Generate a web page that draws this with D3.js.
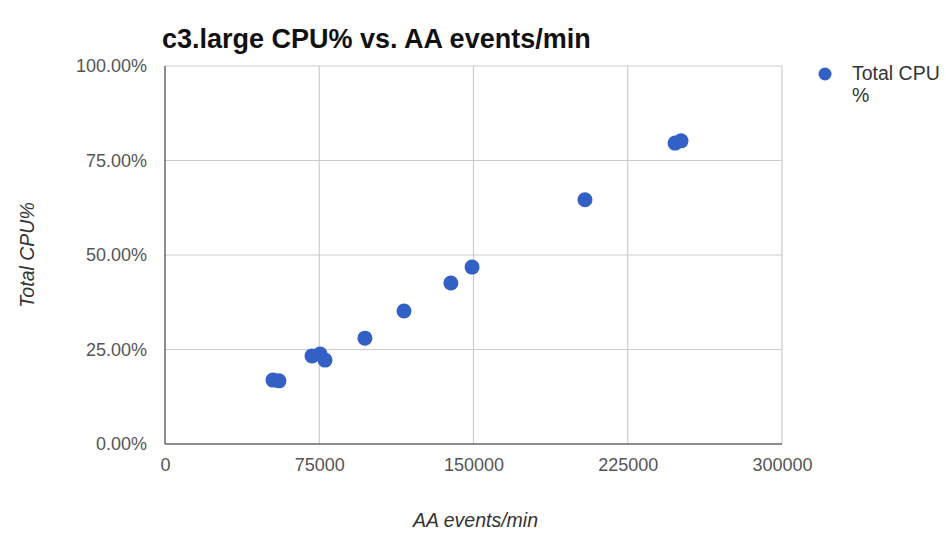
<!DOCTYPE html>
<html>
<head>
<meta charset="utf-8">
<script src="https://cdn.jsdelivr.net/npm/d3@7"></script>
<style>
  html, body { margin: 0; padding: 0; background: #fff; }
  svg { display: block; font-family: "Liberation Sans", Arial, sans-serif; }
</style>
</head>
<body>
<svg id="chart" width="945" height="533"></svg>
<script>
const title = "c3.large CPU% vs. AA events/min";
const xAxisTitle = "AA events/min";
const yAxisTitle = "Total CPU%";
const seriesName = ["Total CPU", "%"];
const eventsPerMin = [52500, 55400, 71500, 75400, 77800, 97200, 116200, 139000, 149300, 204200, 248000, 250900];
const cpuPercent   = [0.169, 0.167, 0.233, 0.238, 0.222, 0.280, 0.352, 0.426, 0.468, 0.646, 0.796, 0.802];
const xTicks = [0, 75000, 150000, 225000, 300000];
const yTicks = [0, 0.25, 0.5, 0.75, 1.0];

const svg = d3.select("#chart");
const plotL = 165, plotR = 782, plotT = 66, plotB = 444;
const FONT = "\"Liberation Sans\", Arial, sans-serif";

const x = d3.scaleLinear().domain([0, 300000]).range([plotL, plotR]);
const y = d3.scaleLinear().domain([0, 1]).range([plotB, plotT]);

// gridlines
svg.append("g").selectAll("line").data(xTicks.slice(1)).join("line")
  .attr("x1", d => x(d)).attr("x2", d => x(d))
  .attr("y1", plotT).attr("y2", plotB)
  .attr("stroke", "#cccccc").attr("stroke-width", 1.2);
svg.append("g").selectAll("line").data(yTicks.slice(1)).join("line")
  .attr("y1", d => y(d)).attr("y2", d => y(d))
  .attr("x1", plotL).attr("x2", plotR)
  .attr("stroke", "#cccccc").attr("stroke-width", 1.2);

// baselines
svg.append("line").attr("x1", x(0)).attr("x2", x(0)).attr("y1", plotT).attr("y2", plotB)
  .attr("stroke", "#666").attr("stroke-width", 1.5);
svg.append("line").attr("x1", plotL).attr("x2", plotR).attr("y1", y(0)).attr("y2", y(0))
  .attr("stroke", "#666").attr("stroke-width", 1.5);

// axes labels via d3 axes
const xAxis = d3.axisBottom(x).tickValues(xTicks).tickFormat(d3.format("d")).tickSize(0).tickPadding(14);
const gx = svg.append("g").attr("transform", `translate(0,${plotB})`).call(xAxis);
const yAxis = d3.axisLeft(y).tickValues(yTicks).tickFormat(d3.format(".2%")).tickSize(0).tickPadding(18);
const gy = svg.append("g").attr("transform", `translate(${plotL},0)`).call(yAxis);
[gx, gy].forEach(g => {
  g.select(".domain").remove();
  g.selectAll("text").attr("fill", "#555").style("font-size", "18px")
    .style("font-family", FONT);
});

// points
svg.append("g").selectAll("circle").data(eventsPerMin).join("circle")
  .attr("cx", d => x(d))
  .attr("cy", (d, i) => y(cpuPercent[i]))
  .attr("r", 7.5)
  .attr("fill", "#3360c4");

// title
svg.append("text").attr("x", 162).attr("y", 48)
  .attr("font-weight", "bold").style("font-size", "27px").attr("fill", "#111")
  .text(title);

// axis titles
svg.append("text").attr("x", (plotL + plotR) / 2 + 2).attr("y", 527)
  .attr("text-anchor", "middle").style("font-size", "19.5px").style("font-style", "italic")
  .attr("fill", "#333").text(xAxisTitle);
svg.append("text").attr("transform", `translate(34,${(plotT + plotB) / 2}) rotate(-90)`)
  .attr("text-anchor", "middle").style("font-size", "19.5px").style("font-style", "italic")
  .attr("fill", "#333").text(yAxisTitle);

// legend
svg.append("circle").attr("cx", 825).attr("cy", 74).attr("r", 6.5).attr("fill", "#3360c4");
const lt = svg.append("text").attr("x", 852).attr("y", 80).style("font-size", "19.5px").attr("fill", "#333");
lt.selectAll("tspan").data(seriesName).join("tspan")
  .attr("x", 852).attr("dy", (d, i) => i === 0 ? 0 : 22).text(d => d);
</script>
</body>
</html>
